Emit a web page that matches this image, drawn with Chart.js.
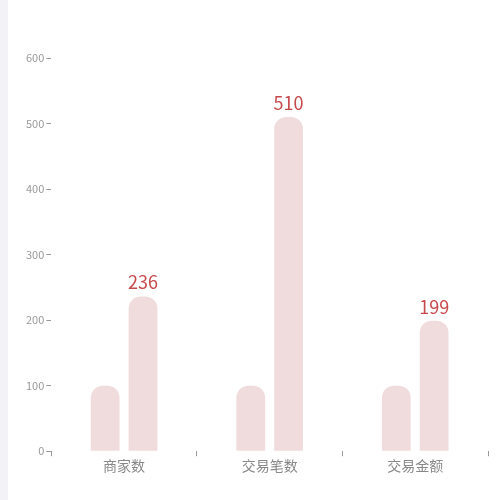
<!DOCTYPE html>
<html lang="zh">
<head>
  <meta charset="UTF-8">
  <title>统计</title>
  <script src="https://cdn.jsdelivr.net/npm/chart.js"></script>
  <style>
    html, body { margin: 0; padding: 0; background: #fff; }
    body { border-left: 8px solid #f2f2f7; }
    #wrap { width: 492px; height: 500px; }
  </style>
</head>
<body>
  <div id="wrap"><canvas id="barChart"></canvas></div>

  <script>
    const categories = ['商家数', '交易笔数', '交易金额'];
    const baseValues = [100, 100, 100];
    const mainValues = [236, 510, 199];
    const yTicks = [0, 100, 200, 300, 400, 500, 600];

    // value labels above the second series
    const valueLabels = {
      id: 'valueLabels',
      afterDatasetsDraw(chart) {
        const ctx = chart.ctx;
        const meta = chart.getDatasetMeta(1);
        ctx.save();
        ctx.font = '18px "Noto Sans CJK SC", sans-serif';
        ctx.fillStyle = '#c8494b';
        ctx.textAlign = 'center';
        ctx.textBaseline = 'bottom';
        meta.data.forEach((bar, i) => {
          ctx.fillText(String(mainValues[i]), bar.x, bar.y - 5);
        });
        ctx.restore();
      }
    };

    const barStyle = {
      backgroundColor: '#f0dcdc',
      borderRadius: { topLeft: 12, topRight: 12 },
      borderSkipped: 'bottom',
      barPercentage: 0.76,
      categoryPercentage: 0.52
    };

    new Chart(document.getElementById('barChart'), {
      type: 'bar',
      data: {
        labels: categories,
        datasets: [
          Object.assign({ data: baseValues }, barStyle),
          Object.assign({ data: mainValues }, barStyle)
        ]
      },
      options: {
        responsive: true,
        maintainAspectRatio: false,
        animation: false,
        layout: { padding: { top: 58, right: 12, bottom: 25, left: 16 } },
        plugins: { legend: { display: false }, tooltip: { enabled: false } },
        scales: {
          x: {
            border: { display: false },
            grid: { drawOnChartArea: false, tickLength: 5, color: '#999' },
            ticks: { color: '#888', padding: 1, font: { size: 14, family: '"Noto Sans CJK SC", sans-serif' } }
          },
          y: {
            min: 0,
            max: 600,
            afterBuildTicks(axis) { axis.ticks = yTicks.map(v => ({ value: v })); },
            border: { display: false },
            grid: { drawOnChartArea: false, tickLength: 5, color: '#999' },
            ticks: { color: '#999', padding: 2, font: { size: 11, family: '"Noto Sans CJK SC", sans-serif' } }
          }
        }
      },
      plugins: [valueLabels]
    });
  </script>
</body>
</html>
